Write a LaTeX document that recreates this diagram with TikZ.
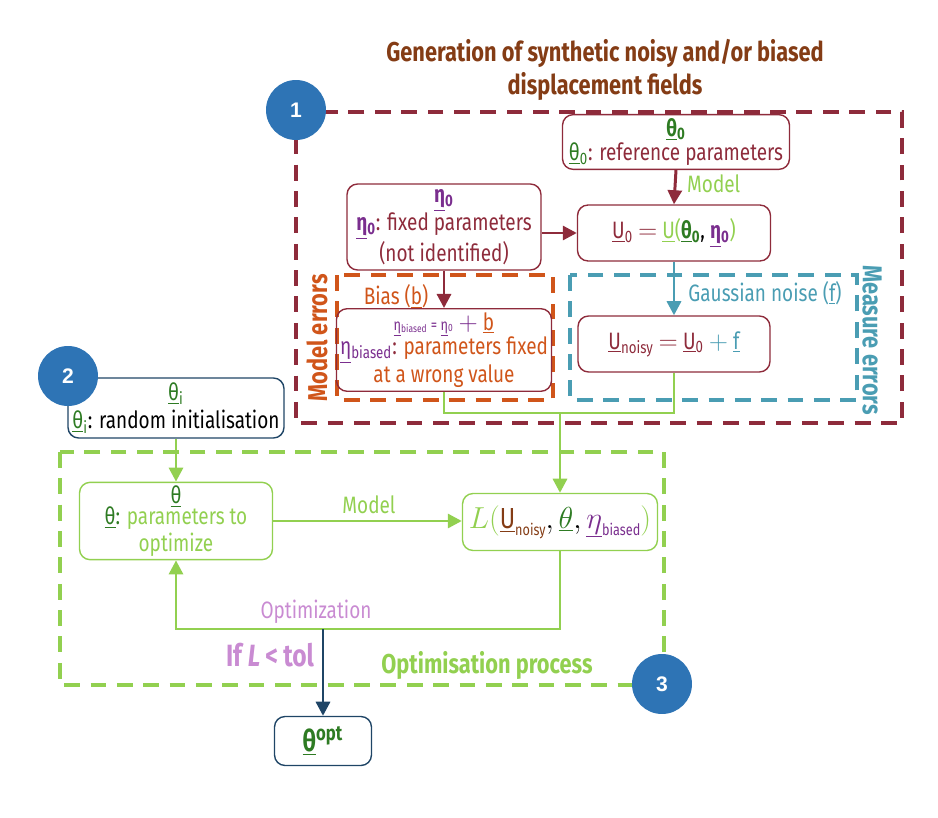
\documentclass[tikz,border=0pt]{standalone}
\usepackage{fontspec}
\setmainfont{Fira Sans}[FakeStretch=0.8]
\newfontfamily\numfont{Liberation Sans}
\usetikzlibrary{arrows.meta}
\definecolor{rojo}{HTML}{8E2B3B}
\definecolor{verde}{HTML}{92D050}
\definecolor{verdeosc}{HTML}{2E7B23}
\definecolor{morado}{HTML}{7A2E8E}
\definecolor{naranja}{HTML}{D0551A}
\definecolor{turquesa}{HTML}{4A9DB3}
\definecolor{azul}{HTML}{2E74B5}
\definecolor{marino}{HTML}{1F4566}
\definecolor{rosa}{HTML}{C98BD2}
\definecolor{marron}{HTML}{843C15}
\newcommand\idx[1]{\textsubscript{#1}}
\newcommand\bajo[1]{\raisebox{-0.45ex}{\small #1}}
\tikzset{
  caja/.style={draw=#1, rounded corners=6pt, line width=0.8pt, align=center, inner sep=2pt},
  flecha/.style={-{Triangle[length=8pt,width=8pt]}, line width=1.7pt},
  zona/.style={dash pattern=on 9pt off 6pt, line width=1.9pt},
  num/.style={circle, fill=azul, text=white, font=\numfont\bfseries\large, minimum size=1.2cm, inner sep=0pt},
  rotulo/.style={font=\fontsize{15.5}{17}\selectfont\bfseries}
}
\begin{document}
\begin{tikzpicture}[x=0.02cm,y=-0.02cm,font=\fontsize{13.5}{16}\selectfont]
    \useasboundingbox (0,0) rectangle (938,818);
    % Zonas
    \draw[zona,rojo] (296,112) rectangle (902,423);
    \draw[zona,naranja] (337,275) rectangle (553,400);
    \draw[zona,turquesa] (570,275) rectangle (857,400);
    \draw[zona,verde] (60,452) rectangle (664,685);
    % Titulos
    \node[text=marron, font=\fontsize{15.5}{19}\selectfont\bfseries, align=center] (titulo) at (605,70)
      {Generation of synthetic noisy and/or biased\\displacement fields};
    \node[text=naranja, rotulo, rotate=90] (merr) at (317,338) {Model errors};
    \node[text=turquesa, rotulo, rotate=-90] (serr) at (872,340) {Measure errors};
    \node[text=verde, rotulo] (proc) at (487,665) {Optimisation process};
    % Cajas
    \node[caja=rojo, minimum width=4.54cm, minimum height=1.02cm] (theta0) at (676,142)
      {\textcolor{verdeosc}{\textbf{\underline{θ}\idx{0}}}\\[-2pt]
       \textcolor{verdeosc}{\underline{θ}\idx{0}}\textcolor{rojo}{: reference parameters}};
    \node[caja=rojo, minimum width=3.88cm, minimum height=1.72cm] (eta0) at (444,227)
      {\textcolor{morado}{\textbf{\underline{η}\idx{0}}}\\
       \textcolor{morado}{\textbf{\underline{η}\idx{0}}}\textcolor{rojo}{: fixed parameters}\\
       \textcolor{rojo}{(not identified)}};
    \node[caja=rojo, minimum width=3.86cm, minimum height=1.12cm] (u0) at (674,233)
      {\textcolor{rojo}{\underline{U}\idx{0} $=$} \textcolor{verde}{\underline{U}(}\textcolor{verdeosc}{\textbf{\underline{θ}\idx{0}}},
       \textcolor{morado}{\textbf{\underline{η}\idx{0}}}\textcolor{verde}{)}};
    \node[caja=rojo, minimum width=4.1cm, minimum height=1.6cm] (bias) at (444,350)
      {\textcolor{morado}{\small\underline{η}\idx{biased} = \underline{η}\idx{0}} \textcolor{morado}{$+$} \textcolor{naranja}{\underline{b}}\\[-2pt]
       \textcolor{morado}{\underline{η}\idx{biased}}\textcolor{rojo}{:} \textcolor{naranja}{parameters fixed}\\
       \textcolor{naranja}{at a wrong value}};
    \node[caja=rojo, minimum width=3.84cm, minimum height=1.12cm] (noisy) at (674,344)
      {\textcolor{rojo}{\underline{U}\idx{noisy} $=$ \underline{U}\idx{0}} \textcolor{turquesa}{$+$ \underline{f}}};
    \node[caja=marino, minimum width=4.32cm, minimum height=1.2cm] (thetai) at (176,408)
      {\textcolor{verdeosc}{\underline{θ}\idx{i}}\\
       \textcolor{verdeosc}{\underline{θ}\idx{i}}: random initialisation};
    \node[caja=verde, minimum width=3.86cm, minimum height=1.42cm] (theta) at (176,521)
      {\textcolor{verdeosc}{\underline{θ}}\\[-4pt]
       \textcolor{verdeosc}{\underline{θ}:} \textcolor{verde}{parameters to}\\[-1pt]
       \textcolor{verde}{optimize}};
    \node[caja=verde, minimum width=3.9cm, minimum height=1.14cm] (loss) at (560,522)
      {\fontsize{16.5}{18}\selectfont\textcolor{verde}{$L($}\textcolor{marron}{\underline{U}\bajo{noisy}}$,$\,\textcolor{verdeosc}{$\underline{\theta}$}$,$\,\textcolor{morado}{$\underline{\eta}$\bajo{biased}}\textcolor{verde}{$)$}};
    \node[caja=marino, minimum width=1.94cm, minimum height=0.98cm] (thopt) at (323,741)
      {\textcolor{verdeosc}{\fontsize{17}{18}\selectfont\textbf{\underline{θ}\textsuperscript{opt}}}};
    % Flechas
    \draw[flecha,rojo] (theta0.south) -- (u0.north);
    \node[text=verde, anchor=west] (lmod) at (681,184) {Model};
    \draw[flecha,rojo] (eta0.east |- u0) -- (u0.west);
    \draw[flecha,rojo] (eta0.south) -- (bias.north);
    \node[text=naranja] (lbias) at (396,296) {Bias (\underline{b})};
    \draw[flecha,turquesa] (u0.south) -- (noisy.north);
    \node[text=turquesa] (lnoise) at (765,293) {Gaussian noise (\underline{f})};
    \coordinate (junta) at (560,413);
    \draw[verde, line width=1.7pt] (bias.south) |- (junta) -| (noisy.south);
    \draw[flecha,verde] (junta) -- (loss.north);
    \draw[flecha,verde] (thetai.south) -- (theta.north);
    \draw[flecha,verde] (theta.east) -- (theta.east -| loss.west);
    \node[text=verde] (lmod2) at (369,505) {Model};
    \coordinate (salida) at (323,629);
    \draw[flecha,verde] (loss.south) |- (salida) -| (theta.south);
    \node[text=rosa] (lopt) at (316,612) {Optimization};
    \draw[flecha,marino] (salida) -- (thopt.north);
    \node[text=rosa, font=\fontsize{17.5}{19}\selectfont\bfseries] (ltol) at (270,655) {If \textit{L}\,<\,tol};
    % Numeros
    \node[num] (n1) at (296,110) {1};
    \node[num] (n2) at (68,376) {2};
    \node[num] (n3) at (662,684) {3};
  \end{tikzpicture}
\end{document}
